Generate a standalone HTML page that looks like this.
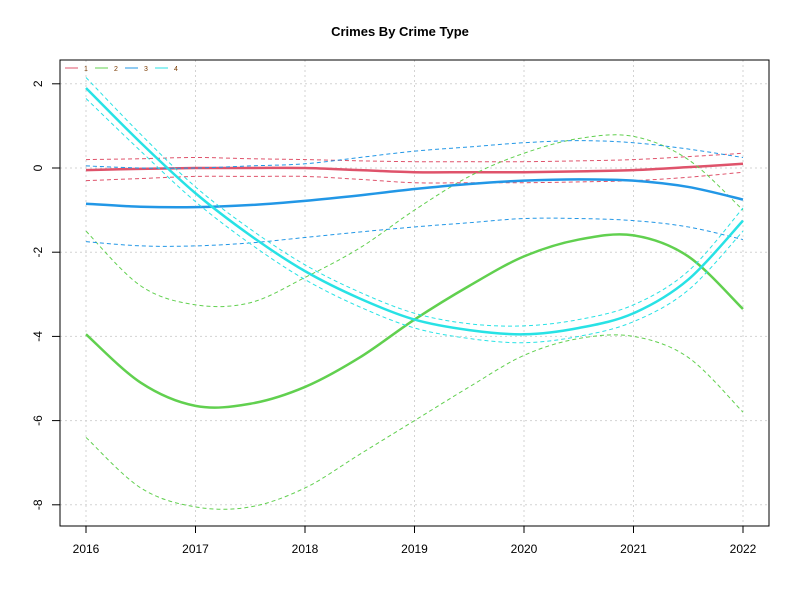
<!DOCTYPE html>
<html><head><meta charset="utf-8"><style>body{margin:0;background:#fff}svg{display:block;font-family:"Liberation Sans",Arial,sans-serif}</style></head>
<body>
<svg id="c" width="800" height="600"></svg>
<script>
const years=[2016,2016.5,2017,2017.5,2018,2018.5,2019,2019.5,2020,2020.5,2021,2021.5,2022];
const xTicks=[2016,2017,2018,2019,2020,2021,2022];
const yTicks=[2,0,-2,-4,-6,-8];
const s1Mean=[-0.05,-0.02,0,0,0,-0.05,-0.1,-0.1,-0.1,-0.08,-0.05,0.02,0.1];
const s1Up=[0.2,0.22,0.25,0.22,0.2,0.17,0.15,0.15,0.15,0.17,0.2,0.27,0.35];
const s1Lo=[-0.3,-0.25,-0.2,-0.2,-0.2,-0.27,-0.35,-0.35,-0.35,-0.33,-0.3,-0.22,-0.1];
const s2Mean=[-3.95,-5.1,-5.65,-5.6,-5.2,-4.5,-3.6,-2.8,-2.1,-1.7,-1.6,-2.1,-3.35];
const s2Up=[-1.5,-2.8,-3.25,-3.2,-2.6,-1.9,-1.0,-0.2,0.35,0.7,0.75,0.2,-1.0];
const s2Lo=[-6.4,-7.6,-8.05,-8.05,-7.6,-6.8,-6.0,-5.2,-4.45,-4.05,-4.0,-4.5,-5.8];
const s3Mean=[-0.85,-0.92,-0.93,-0.88,-0.78,-0.65,-0.5,-0.38,-0.3,-0.27,-0.3,-0.45,-0.75];
const s3Up=[0.05,0.0,0.0,0.05,0.1,0.25,0.4,0.5,0.6,0.65,0.6,0.45,0.25];
const s3Lo=[-1.75,-1.85,-1.85,-1.78,-1.65,-1.52,-1.4,-1.3,-1.2,-1.2,-1.25,-1.4,-1.7];
const s4Mean=[1.9,0.6,-0.6,-1.6,-2.45,-3.1,-3.6,-3.85,-3.95,-3.8,-3.45,-2.65,-1.25];
const s4Up=[2.15,0.8,-0.45,-1.45,-2.3,-2.95,-3.45,-3.7,-3.75,-3.6,-3.25,-2.45,-0.95];
const s4Lo=[1.65,0.4,-0.8,-1.8,-2.65,-3.3,-3.8,-4.05,-4.15,-4.0,-3.65,-2.9,-1.5];
const legendLabels=["1","2","3","4"];
const colors=["#DF536B","#61D04F","#2297E6","#28E2E5"];
const series=[[s1Mean,s1Up,s1Lo],[s2Mean,s2Up,s2Lo],[s3Mean,s3Up,s3Lo],[s4Mean,s4Up,s4Lo]];
const NS="http://www.w3.org/2000/svg",svg=document.getElementById('c');
const X=v=>86+(v-2016)*109.5, Y=v=>168-v*42.1;
function mk(t,a,p){const e=document.createElementNS(NS,t);for(const k in a)e.setAttribute(k,a[k]);(p||svg).appendChild(e);return e;}
const title=mk('text',{x:400,y:36,'text-anchor':'middle','font-size':13,'font-weight':'bold'});title.textContent='Crimes By Crime Type';


xTicks.forEach(t=>{const g=mk('line',{x1:X(t),x2:X(t),y1:60,y2:526,stroke:'#d3d3d3','stroke-dasharray':'2,3'});


const k=mk('line',{x1:X(t),x2:X(t),y1:526,y2:533,stroke:'#000'});


const l=mk('text',{x:X(t),y:553,'text-anchor':'middle','font-size':12});l.textContent=t;

});
yTicks.forEach(t=>{const g=mk('line',{x1:60,x2:769,y1:Y(t),y2:Y(t),stroke:'#d3d3d3','stroke-dasharray':'2,3'});


const k=mk('line',{x1:52,x2:60,y1:Y(t),y2:Y(t),stroke:'#000'});


const l=mk('text',{x:0,y:0,'text-anchor':'middle','font-size':12,transform:`translate(42,${Y(t)}) rotate(-90)`});l.textContent=t;

});
function path(vals){const p=years.map((y,i)=>[X(y),Y(vals[i])]);let d=`M${p[0][0]},${p[0][1]}`;
for(let i=0;i<p.length-1;i++){const a=p[Math.max(i-1,0)],b=p[i],c=p[i+1],e=p[Math.min(i+2,p.length-1)];
d+=` C${b[0]+(c[0]-a[0])/6},${b[1]+(c[1]-a[1])/6} ${c[0]-(e[0]-b[0])/6},${c[1]-(e[1]-b[1])/6} ${c[0]},${c[1]}`;}return d;}
series.forEach((s,i)=>{
const u=mk('path',{d:path(s[1]),fill:'none',stroke:colors[i],'stroke-width':1,'stroke-dasharray':'4,3'});


const lo=mk('path',{d:path(s[2]),fill:'none',stroke:colors[i],'stroke-width':1,'stroke-dasharray':'4,3'});


const m=mk('path',{d:path(s[0]),fill:'none',stroke:colors[i],'stroke-width':2.5});

});
const box=mk('rect',{x:60,y:60,width:709,height:466,fill:'none',stroke:'#000'});


legendLabels.forEach((t,i)=>{const x0=65+i*30;
const ln=mk('line',{x1:x0,x2:x0+13,y1:68,y2:68,stroke:colors[i]});


const tx=mk('text',{x:x0+19,y:71,'font-size':7,fill:'#7a3a00'});tx.textContent=t;

});
</script>
</body></html>
